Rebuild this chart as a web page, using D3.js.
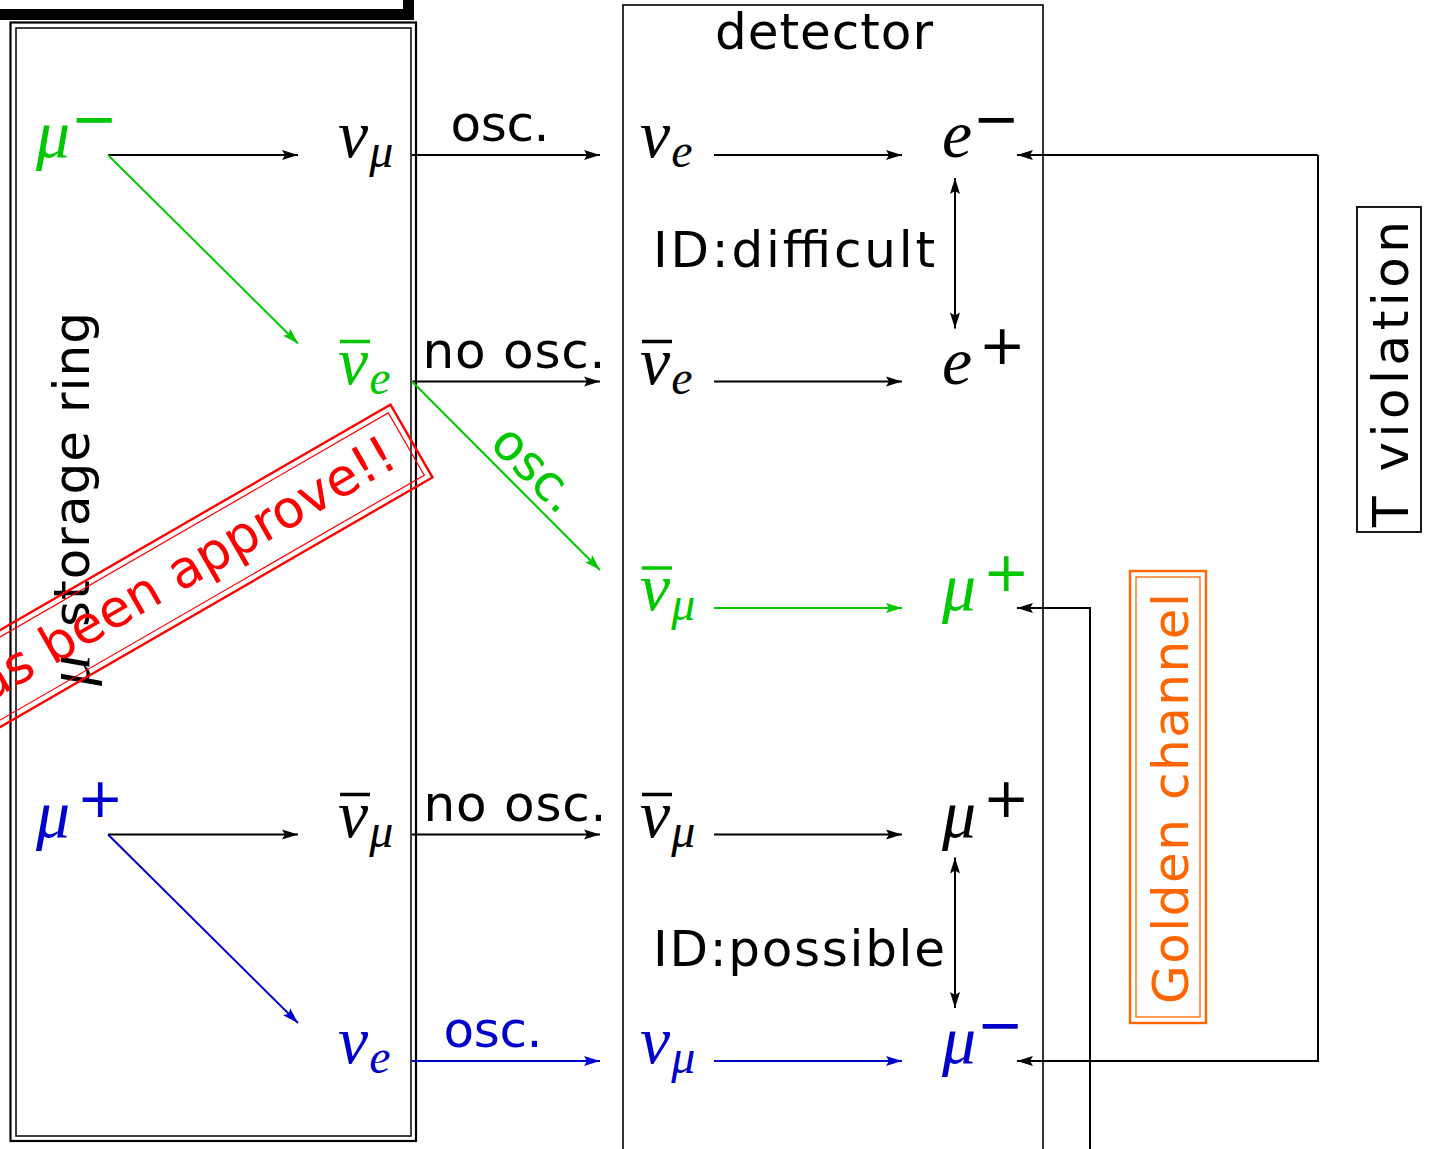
<!DOCTYPE html>
<html>
<head>
<meta charset="utf-8">
<script src="https://cdn.jsdelivr.net/npm/d3@7"></script>
<style>
  html, body { margin: 0; padding: 0; background: #fff; overflow: hidden; }
  svg { display: block; }
</style>
</head>
<body>
<svg id="fig" width="1432" height="1149"></svg>
<script>
// Neutrino factory channels: muons decay in the storage ring, the neutrinos may
// oscillate on the way, and the charged lepton is identified in the detector.

// Columns: parent muon | beam neutrino | neutrino at detector | charged lepton
const columns = ["parent", "beam", "arrival", "lepton"];
// Rows of the scheme, top to bottom
const stages = ["mu- -> numu", "mu- -> anti-nue", "anti-nue -> anti-numu", "mu+ -> anti-numu", "mu+ -> nue"];

// Particle labels: base symbol, optional bar, subscript and charge
const particles = [
  { col: 0, row: 0, base: "μ", sup: "−", tone: "g" },
  { col: 1, row: 0, base: "ν", sub: "μ", tone: "k" },
  { col: 2, row: 0, base: "ν", sub: "e", tone: "k" },
  { col: 3, row: 0, base: "e", sup: "−", tone: "k" },
  { col: 1, row: 1, base: "ν", bar: true, sub: "e", tone: "g" },
  { col: 2, row: 1, base: "ν", bar: true, sub: "e", tone: "k" },
  { col: 3, row: 1, base: "e", sup: "+", tone: "k" },
  { col: 2, row: 2, base: "ν", bar: true, sub: "μ", tone: "g" },
  { col: 3, row: 2, base: "μ", sup: "+", tone: "g" },
  { col: 0, row: 3, base: "μ", sup: "+", tone: "b" },
  { col: 1, row: 3, base: "ν", bar: true, sub: "μ", tone: "k" },
  { col: 2, row: 3, base: "ν", bar: true, sub: "μ", tone: "k" },
  { col: 3, row: 3, base: "μ", sup: "+", tone: "k" },
  { col: 1, row: 4, base: "ν", sub: "e", tone: "b" },
  { col: 2, row: 4, base: "ν", sub: "μ", tone: "b" },
  { col: 3, row: 4, base: "μ", sup: "−", tone: "b" }
];

// Decays, propagation (with or without oscillation) and detection
const transitions = [
  { from: [0, 0], to: [1, 0], tone: "k" },
  { from: [0, 0], to: [1, 1], tone: "g" },
  { from: [1, 0], to: [2, 0], tone: "k", label: "osc." },
  { from: [2, 0], to: [3, 0], tone: "k" },
  { from: [1, 1], to: [2, 1], tone: "k", label: "no osc." },
  { from: [1, 1], to: [2, 2], tone: "g", label: "osc." },
  { from: [2, 1], to: [3, 1], tone: "k" },
  { from: [2, 2], to: [3, 2], tone: "g" },
  { from: [0, 3], to: [1, 3], tone: "k" },
  { from: [0, 3], to: [1, 4], tone: "b" },
  { from: [1, 3], to: [2, 3], tone: "k", label: "no osc." },
  { from: [2, 3], to: [3, 3], tone: "k" },
  { from: [1, 4], to: [2, 4], tone: "b", label: "osc." },
  { from: [2, 4], to: [3, 4], tone: "b" }
];

// Charge identification between opposite-sign leptons
const chargeId = [
  { rows: [0, 1], label: "ID:difficult" },
  { rows: [3, 4], label: "ID:possible" }
];

// Box and stamp captions
const captions = {
  detector: "detector",
  ring: "storage ring",
  ringSymbol: "μ",
  tViolation: "T violation",
  golden: "Golden channel",
  stamp: "This has been approve!!"
};

// ---------------------------------------------------------------- styling
const tones = { k: "#000000", g: "#00c800", b: "#0000cc" };
const red = "#ff0000", orange = "#ff6600";
const sans = "'DejaVu Sans', 'Open Sans', sans-serif";
const serif = "'Liberation Serif', 'DejaVu Serif', serif";

const svg = d3.select("#fig");
const colX = d3.scaleLinear().domain([0, columns.length - 1]).range([36, 942]);
const rowY = d3.scaleLinear().domain([0, stages.length - 1]).range([155, 1061]);

// arrowheads
const defs = svg.append("defs");
Object.entries(tones).forEach(([k, c]) => {
  defs.append("marker")
    .attr("id", "arr-" + k)
    .attr("viewBox", "0 -6 18 12")
    .attr("markerUnits", "userSpaceOnUse")
    .attr("markerWidth", 18).attr("markerHeight", 12)
    .attr("refX", 17).attr("refY", 0)
    .attr("orient", "auto-start-reverse")
    .append("path")
    .attr("d", "M1,-5 L17,0 L1,5 L4,0 Z")
    .attr("fill", c);
});

// ---------------------------------------------------------------- frames
const frames = svg.append("g").attr("fill", "none").attr("stroke", "#000");

// heavy border running off the top-left corner
frames.append("path")
  .attr("d", d3.line()([[-10, 14.5], [408.5, 14.5], [408.5, -10]]))
  .attr("stroke-width", 11).attr("stroke-linejoin", "miter");

// storage ring: double outline
frames.append("rect").attr("x", 10.5).attr("y", 22.5).attr("width", 405.5).attr("height", 1118.5)
  .attr("stroke-width", 2.2);
frames.append("rect").attr("x", 16).attr("y", 28).attr("width", 395).attr("height", 1108)
  .attr("stroke-width", 1.5);

// detector
frames.append("rect").attr("x", 623).attr("y", 5).attr("width", 420).attr("height", 1200)
  .attr("stroke-width", 1.6);

// T violation caption box
frames.append("rect").attr("x", 1357).attr("y", 207).attr("width", 64).attr("height", 325)
  .attr("stroke-width", 1.8);

// golden channel caption box (orange double outline)
frames.append("rect").attr("x", 1130).attr("y", 571).attr("width", 76).attr("height", 452)
  .attr("stroke", orange).attr("stroke-width", 2.4);
frames.append("rect").attr("x", 1136).attr("y", 577).attr("width", 64).attr("height", 440)
  .attr("stroke", orange).attr("stroke-width", 1.3);

// ---------------------------------------------------------------- captions
svg.append("text")
  .attr("x", 715).attr("y", 49)
  .attr("font-family", sans).attr("font-size", 50)
  .attr("textLength", 218).attr("lengthAdjust", "spacing")
  .text(captions.detector);

// rotated storage-ring caption
const ringLab = svg.append("g").attr("transform", "translate(89,0)");
ringLab.append("text")
  .attr("transform", "translate(0,686) rotate(-90)")
  .attr("font-family", serif).attr("font-style", "italic").attr("font-size", 62)
  .text(captions.ringSymbol);
ringLab.append("text")
  .attr("transform", "translate(0,627) rotate(-90)")
  .attr("font-family", sans).attr("font-size", 50)
  .attr("textLength", 315).attr("lengthAdjust", "spacing")
  .text(captions.ring);

svg.append("text")
  .attr("transform", "translate(1408,527) rotate(-90)")
  .attr("font-family", sans).attr("font-size", 50)
  .attr("textLength", 306).attr("lengthAdjust", "spacing")
  .text(captions.tViolation);

svg.append("text")
  .attr("transform", "translate(1188,1004) rotate(-90)")
  .attr("font-family", sans).attr("font-size", 50).attr("fill", orange)
  .attr("textLength", 411).attr("lengthAdjust", "spacing")
  .text(captions.golden);

// ---------------------------------------------------------------- transitions
const arrowG = svg.append("g").attr("fill", "none").attr("stroke-width", 2);
transitions.forEach(t => {
  const [c0, r0] = t.from, [c1, r1] = t.to;
  const x0 = colX(c0) + (c0 === 0 ? 72 : 74);
  const y0 = rowY(r0);
  const x1 = colX(c1) - 40;
  const y1 = r1 === r0 ? rowY(r1) : rowY(r1) - 38;
  arrowG.append("path")
    .attr("d", d3.line()([[x0, y0], [x1, y1]]))
    .attr("stroke", tones[t.tone])
    .attr("marker-end", `url(#arr-${t.tone})`);

  if (!t.label) return;
  const mx = (x0 + x1) / 2, my = (y0 + y1) / 2;
  if (r1 === r0) {
    // centred above a horizontal arrow
    const shift = { 0: -6, 1: 8, 3: 9, 4: -13 }[r0] || 0;
    const width = t.label === "osc." ? 99 : 183;
    svg.append("text")
      .attr("x", mx + shift).attr("y", y0 - 14)
      .attr("text-anchor", "middle")
      .attr("font-family", sans).attr("font-size", 50)
      .attr("fill", tones[t.tone === "b" ? "b" : "k"])
      .attr("textLength", width).attr("lengthAdjust", "spacing")
      .text(t.label);
  } else {
    // written along the diagonal
    const ang = Math.atan2(y1 - y0, x1 - x0) * 180 / Math.PI;
    svg.append("text")
      .attr("transform", `translate(${mx},${my}) rotate(${ang})`)
      .attr("x", 16).attr("y", -9)
      .attr("text-anchor", "middle")
      .attr("font-family", sans).attr("font-size", 50)
      .attr("fill", tones[t.tone])
      .text(t.label);
  }
});

// charge identification double arrows
chargeId.forEach((c, i) => {
  const x = colX(3) + 13;
  const yTop = rowY(c.rows[0]) + 23, yBot = rowY(c.rows[1]) - 53;
  svg.append("path")
    .attr("d", d3.line()([[x, yTop], [x, yBot]]))
    .attr("stroke", "#000").attr("stroke-width", 2).attr("fill", "none")
    .attr("marker-start", "url(#arr-k)").attr("marker-end", "url(#arr-k)");
  svg.append("text")
    .attr("x", 653).attr("y", i === 0 ? 267 : 966)
    .attr("font-family", sans).attr("font-size", 50)
    .attr("textLength", i === 0 ? 282 : 292).attr("lengthAdjust", "spacing")
    .text(c.label);
});

// comparison loops: T violation (e- vs mu-) and golden channel (mu+)
const tipX = colX(3) + 75;
const loops = svg.append("g").attr("fill", "none").attr("stroke", "#000").attr("stroke-width", 2);
loops.append("path").attr("d", d3.line()([[1318, rowY(0)], [tipX, rowY(0)]]))
  .attr("marker-end", "url(#arr-k)");
loops.append("path").attr("d", d3.line()([[1318, rowY(0)], [1318, rowY(4)], [tipX, rowY(4)]]))
  .attr("marker-end", "url(#arr-k)");
loops.append("path").attr("d", d3.line()([[1090, 1200], [1090, rowY(2)], [tipX, rowY(2)]]))
  .attr("marker-end", "url(#arr-k)");

// ---------------------------------------------------------------- particles
const pG = svg.append("g");
particles.forEach(p => {
  const x = colX(p.col), y = rowY(p.row), col = tones[p.tone];
  const base = pG.append("text")
    .attr("x", x).attr("y", y + 2)
    .attr("font-family", serif).attr("font-style", "italic").attr("font-size", 68)
    .attr("fill", col).text(p.base);
  const w = base.node().getComputedTextLength();
  if (p.bar) {
    pG.append("line")
      .attr("x1", x + 2).attr("x2", x + 32)
      .attr("y1", y - 40).attr("y2", y - 40)
      .attr("stroke", col).attr("stroke-width", 3.5);
  }
  if (p.sub) {
    pG.append("text")
      .attr("x", x + w + 1).attr("y", y + 12)
      .attr("font-family", serif).attr("font-style", "italic").attr("font-size", 48)
      .attr("fill", col).text(p.sub);
  }
  if (p.sup) {
    pG.append("text")
      .attr("x", x + w + (p.sup === "+" ? 30 : 24)).attr("y", y - 37)
      .attr("text-anchor", "middle").attr("dominant-baseline", "central")
      .attr("font-family", sans).attr("font-size", 56)
      .attr("fill", col).text(p.sup);
  }
});

// ---------------------------------------------------------------- stamp
const stamp = svg.append("g").attr("transform", "translate(411.5,441) rotate(-30)");
stamp.append("rect").attr("x", -1000).attr("y", -42).attr("width", 1000).attr("height", 84)
  .attr("fill", "none").attr("stroke", red).attr("stroke-width", 2.4);
stamp.append("rect").attr("x", -994).attr("y", -36).attr("width", 988).attr("height", 72)
  .attr("fill", "none").attr("stroke", red).attr("stroke-width", 1.2);
stamp.append("text")
  .attr("x", -22).attr("y", 15)
  .attr("text-anchor", "end")
  .attr("font-family", sans).attr("font-size", 52)
  .attr("fill", red)
  .text(captions.stamp);
</script>
</body>
</html>
